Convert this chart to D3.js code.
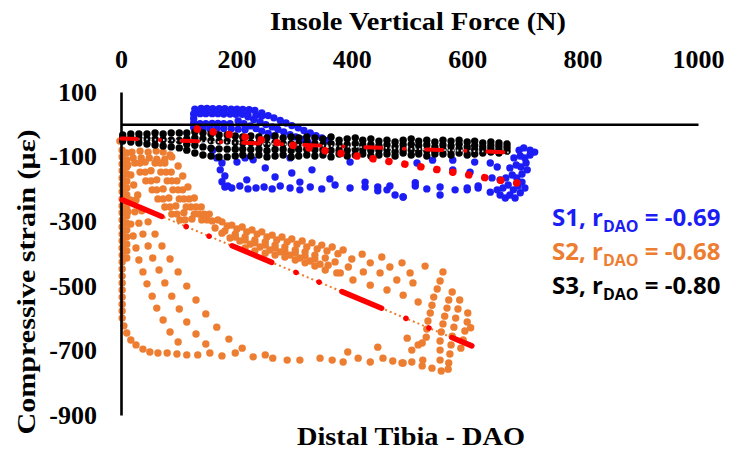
<!DOCTYPE html>
<html><head><meta charset="utf-8">
<script src="https://cdn.jsdelivr.net/npm/d3@7"></script>
<style>body{margin:0;background:#fff} svg{display:block}</style>
</head><body>
<svg id="c" width="730" height="451"></svg>
<script>
// ---------- data ----------
const xTicks = [0, 200, 400, 600, 800, 1000];
const yTicks = [100, -100, -300, -500, -700, -900];

// S1 (blue): [force N, strain]
const s1Points = [
  [128,47],[139,49],[149,49],[159,48],[170,48],[180,48],[191,47],[201,47],[211,46],[222,45],[232,43],
  [126,32],[137,33],[147,33],[158,33],[168,33],[178,32],[189,32],[199,31],[210,31],[220,30],[234,28],[244,26],
  [126,18],[126,4],[126,-10],
  [137,2],[147,2],[158,3],[168,3],[178,2],[189,2],
  [142,-14],[154,-14],[166,-13],[178,-13],[191,-14],[203,-15],[215,-17],
  [244,35],[255,27],[265,20],[276,12],[286,4],[296,-4],[307,-11],[317,-19],[328,-27],[338,-35],[348,-42],[359,-50],
  [220,23],[230,15],[241,7],[251,-1],[262,-8],[272,-16],[282,-24],[293,-32],[303,-39],[314,-47],[324,-55],
  [203,10],[213,2],[224,-5],[234,-13],[244,-21],[255,-28],[265,-36],
  [159,-80],[166,-104],[175,-120],[172,-141],[180,-160],[175,-178],[185,-191],[201,-117],[215,-104],
  [229,-110],[250,-135],[218,-172],[267,-163],[296,-151],[331,-141],[362,-169],[397,-117],[293,-104],
  [310,-179],[423,-179],[475,-219],[553,-219],[540,-111],[575,-111],[575,-141],[605,-148],[613,-117],
  [640,-120],[652,-132],[619,-197],[643,-166],[600,-203],[489,-225],[510,-181],[513,-120],[461,-203],[445,-194],
  [180,-194],[192,-197],[206,-191],[220,-200],[234,-197],[248,-194],[262,-200],[276,-191],[293,-197],
  [310,-203],[328,-194],[348,-200],[371,-188],[397,-197],[423,-194],[445,-206],[466,-191],[489,-225],
  [510,-191],[530,-200],[553,-194],[579,-203],[600,-197],[619,-191],[640,-210],
  [657,-219],[666,-228],[674,-219],[662,-197],[671,-188],[680,-203],[688,-191],[667,-166],[678,-157],
  [686,-166],[695,-154],[674,-135],[685,-126],[693,-132],[702,-120],[681,-104],[692,-98],[700,-104],
  [709,-95],[690,-80],[698,-73],[709,-80],[717,-86],[657,-172],[652,-203],[695,-179],[704,-141],
  [683,-228],[692,-212],[700,-197]
];

// S2 (orange): [force N, strain]
const s2Points = [
  [-2,-52],
  [2,-80],[2,-101],[2,-123],[2,-144],[2,-166],[2,-188],[2,-209],[2,-231],[2,-253],[2,-274],[2,-296],
  [2,-318],[2,-340],[2,-361],[2,-383],[2,-405],[2,-426],[2,-448],[2,-470],[2,-491],[2,-513],[2,-535],
  [2,-557],[2,-578],[2,-600],
  [10,-89],[10,-111],[10,-132],[10,-154],[10,-176],[10,-197],[10,-219],[10,-241],[10,-262],[10,-284],
  [10,-306],[10,-327],[10,-349],[10,-371],[10,-392],[10,-414],
  [19,-86],[33,-83],[47,-86],[61,-83],[73,-86],[21,-104],[35,-104],[49,-104],[62,-108],[76,-108],[85,-95],
  [12,-126],[17,-157],[22,-188],[29,-219],
  [24,-120],[33,-148],[43,-175],[54,-203],[64,-231],[76,-256],[88,-278],[102,-296],
  [33,-120],[42,-148],[52,-175],[62,-203],[73,-231],[85,-256],[97,-278],[111,-296],
  [42,-117],[52,-144],[62,-172],[73,-200],[83,-228],[95,-253],[109,-274],[123,-293],
  [59,-120],[69,-148],[80,-175],[90,-203],[101,-231],[113,-256],[127,-278],[140,-296],
  [68,-120],[78,-148],[88,-175],[99,-203],[109,-231],[121,-256],[135,-278],[149,-296],
  [76,-120],[87,-148],[97,-175],[107,-203],[118,-231],[130,-256],[144,-278],[158,-299],
  [88,-101],[99,-129],[107,-160],[116,-194],[127,-228],[139,-256],[153,-278],[168,-296],
  [9,-234],[12,-271],[17,-309],[21,-346],[26,-383],[31,-420],[38,-457],[45,-494],[54,-532],[62,-569],[73,-606],[85,-643],[99,-674],
  [16,-234],[24,-271],[31,-306],[38,-340],[47,-377],[55,-414],[66,-451],[76,-491],[88,-532],[101,-572],[114,-612],[130,-649],[147,-680],
  [26,-234],[36,-268],[47,-302],[59,-340],[71,-377],[85,-417],[99,-457],[114,-501],[130,-544],[147,-587],[166,-628],[187,-665],[210,-693],
  [175,-302],[192,-312],[210,-318],[227,-327],[244,-333],[262,-343],[279,-349],[296,-355],[314,-361],
  [331,-367],[348,-374],[366,-380],[385,-389],[418,-402],[452,-411],[487,-429],[527,-439],[558,-457],
  [184,-315],[201,-324],[218,-333],[236,-340],[253,-349],[270,-358],[288,-364],[305,-371],[322,-380],
  [340,-386],[357,-392],[376,-401],[400,-417],[432,-429],[466,-442],[501,-460],
  [163,-321],[180,-330],[198,-340],[215,-349],[232,-358],[250,-364],[267,-374],[284,-380],[302,-389],
  [319,-395],[336,-405],[354,-414],[371,-426],[394,-442],[420,-457],[449,-460],[478,-482],[506,-491],
  [175,-337],[198,-349],[215,-358],[232,-367],[250,-374],[267,-383],[284,-392],[302,-398],[319,-408],[336,-417],[359,-436],
  [189,-352],[206,-361],[224,-371],[241,-380],[258,-389],[276,-395],[293,-405],[310,-414],[328,-423],
  [345,-433],[374,-460],[402,-482],[432,-498],[461,-513],[489,-529],[515,-550],
  [215,-383],[232,-392],[250,-399],[267,-405],[284,-411],[302,-420],[319,-429],[336,-439],[354,-451],[380,-460],
  [553,-485],[548,-510],[542,-535],[539,-560],[536,-584],[532,-609],[530,-634],[529,-659],
  [574,-519],[568,-544],[565,-569],[561,-594],[558,-618],[555,-643],[553,-671],[553,-699],[553,-730],
  [587,-544],[584,-572],[580,-600],[577,-628],[574,-656],[572,-683],[570,-711],[568,-739],
  [601,-584],[600,-612],[596,-640],[593,-668],[589,-693],[606,-630],
  [496,-662],[504,-699],[489,-739],[523,-730],[515,-683],[393,-705],[445,-690],[522,-677],
  [5,-624],[10,-646],[17,-668],[26,-683],[38,-696],[50,-705],[64,-708],[80,-708],[97,-711],[114,-714],
  [133,-714],[154,-708],[175,-717],[198,-708],[229,-720],[250,-714],[263,-724],[288,-730],[310,-730],
  [345,-724],[366,-730],[385,-736],[411,-724],[432,-736],[454,-724],[471,-733],[487,-739],[504,-736],
  [522,-748],[539,-755],[555,-764],[567,-758]
];

// S3 (black): [force N, [strains at that force]]
const s3Columns = [
  [3,[-33,-42,-52]],[17,[-30,-42,-55]],[31,[-30,-44,-58]],[45,[-30,-45,-61]],[59,[-27,-46,-64]],
  [73,[-30,-48,-67]],[87,[-27,-49,-70]],[101,[-27,-50,-73]],[114,[-27,-45,-62,-80]],[128,[-24,-42,-65,-89]],
  [142,[-27,-45,-70,-95]],[156,[-30,-50,-74,-98]],[170,[-33,-52,-76,-101]],[184,[-33,-52,-77,-101]],
  [198,[-36,-56,-77,-98]],[211,[-39,-58,-77,-95]],[225,[-36,-57,-78,-98]],[239,[-39,-58,-77,-95]],
  [253,[-42,-62,-82,-101]],[267,[-36,-57,-78,-98]],[281,[-42,-60,-78,-95]],[295,[-39,-60,-81,-101]],
  [308,[-42,-60,-78,-98]],[322,[-39,-58,-77,-95]],[336,[-42,-60,-79,-98]],[350,[-45,-62,-79,-95]],
  [364,[-39,-60,-81,-101]],[378,[-49,-64,-80,-92]],[392,[-45,-63,-81,-98]],[406,[-42,-60,-78,-95]],
  [419,[-49,-64,-79,-92]],[433,[-45,-63,-81,-98]],[447,[-52,-66,-80,-95]],[461,[-49,-64,-78,-92]],
  [475,[-55,-70,-85,-98]],[489,[-49,-63,-77,-89]],[503,[-45,-62,-79,-95]],[516,[-52,-66,-80,-92]],
  [530,[-49,-64,-81,-98]],[544,[-55,-70,-83,-92]],[558,[-49,-64,-79,-92]],[572,[-52,-67,-82,-95]],
  [586,[-49,-62,-76,-89]],[600,[-55,-70,-82,-95]],[613,[-52,-66,-79,-92]],[627,[-58,-70,-80,-89]],
  [641,[-55,-66,-76,-86]],[655,[-58,-68,-79,-89]],[669,[-61,-72,-83]]
];

// linear trend lines (start, end)
const trendS1 = [[132,-15],[697,-185]];
const trendS2 = [[2,-234],[608,-686]];
const trendS3 = [[0,-44],[674,-87]];

const legendNames = ["S1", "S2", "S3"];
const legendR = ["-0.69", "-0.68", "-0.80"];
const colors = ["#1c1cf5", "#ED7D31", "#000000"];

// ---------- drawing ----------
const svg = d3.select("#c");
const x = d3.scaleLinear().domain([0, 1000]).range([121, 698]);
const y = d3.scaleLinear().domain([-900, 100]).range([415, 92]);
const R = 3.7;
const serif = "'Liberation Serif','Times New Roman',serif";

function dots(data, color) {
  svg.append("g").selectAll("circle").data(data).join("circle")
    .attr("cx", d => x(d[0])).attr("cy", d => y(d[1])).attr("r", R).attr("fill", color);
}
dots(s1Points, colors[0]);
dots(s2Points, colors[1]);
dots(s3Columns.flatMap(c => c[1].map(v => [c[0], v])), colors[2]);

// axes
const xAxis = svg.append("g").attr("transform", `translate(0,${y(0)})`)
  .call(d3.axisTop(x).tickValues(xTicks).tickSize(0).tickPadding(y(0) - 68).tickFormat(d3.format("d")));
const yAxis = svg.append("g").attr("transform", `translate(${x(0)},0)`)
  .call(d3.axisLeft(y).tickValues(yTicks).tickSize(0).tickPadding(24).tickFormat(d3.format("d")));
[xAxis, yAxis].forEach(g => {
  g.select(".domain").attr("stroke", "#000").attr("stroke-width", 2.6);
  g.selectAll("text").attr("font-family", serif).attr("font-weight", "bold")
    .attr("font-size", 26).attr("fill", "#000");
});
yAxis.selectAll("text").text(d => d < 0 ? "-" + Math.abs(d) : d);

// trend lines
const line = d3.line().x(d => x(d[0])).y(d => y(d[1]));
svg.append("path").attr("d", line(trendS2)).attr("stroke", colors[1]).attr("stroke-width", 2)
  .attr("stroke-dasharray", "2 3").attr("fill", "none");
svg.append("path").attr("d", line(trendS2)).attr("stroke", "#ff0000").attr("stroke-width", 5.5)
  .attr("stroke-linecap", "round").attr("stroke-dasharray", "43 26.3 0.1 24.8 0.1 24.8").attr("fill", "none");
svg.append("path").attr("d", line(trendS3)).attr("stroke", "#d8d8d8").attr("stroke-width", 1.8)
  .attr("stroke-dasharray", "1.6 2.6").attr("fill", "none");
svg.append("path").attr("d", line(trendS3)).attr("stroke", "#ff0000").attr("stroke-width", 4)
  .attr("stroke-linecap", "round").attr("stroke-dasharray", "16 23 0.1 22").attr("fill", "none");
svg.append("path").attr("d", line(trendS1)).attr("stroke", "#ff0000").attr("stroke-width", 7.5)
  .attr("stroke-linecap", "round").attr("stroke-dasharray", "0.1 16.1").attr("fill", "none");

// titles
svg.append("text").attr("x", 418).attr("y", 30).attr("text-anchor", "middle")
  .attr("font-family", serif).attr("font-weight", "bold").attr("font-size", 26)
  .attr("textLength", 296).attr("lengthAdjust", "spacingAndGlyphs")
  .text("Insole Vertical Force (N)");
svg.append("text").attr("x", 411).attr("y", 445).attr("text-anchor", "middle")
  .attr("font-family", serif).attr("font-weight", "bold").attr("font-size", 26)
  .attr("textLength", 228).attr("lengthAdjust", "spacingAndGlyphs")
  .text("Distal Tibia - DAO");
svg.append("text").attr("transform", "translate(35,282) rotate(-90)").attr("text-anchor", "middle")
  .attr("font-family", serif).attr("font-weight", "bold").attr("font-size", 25)
  .attr("textLength", 305).attr("lengthAdjust", "spacingAndGlyphs")
  .text("Compressive strain (με)");

// legend text
legendNames.forEach((n, i) => {
  const t = svg.append("text").attr("x", 552).attr("y", 226 + i * 34).attr("fill", colors[i])
    .attr("font-family", "'Open Sans',sans-serif").attr("font-weight", "bold").attr("font-size", 24);
  t.append("tspan").text(n + ", r");
  t.append("tspan").attr("font-size", 16).attr("dy", 6).text("DAO");
  t.append("tspan").attr("dy", -6).text(" = " + legendR[i]);
});
</script>
</body></html>
